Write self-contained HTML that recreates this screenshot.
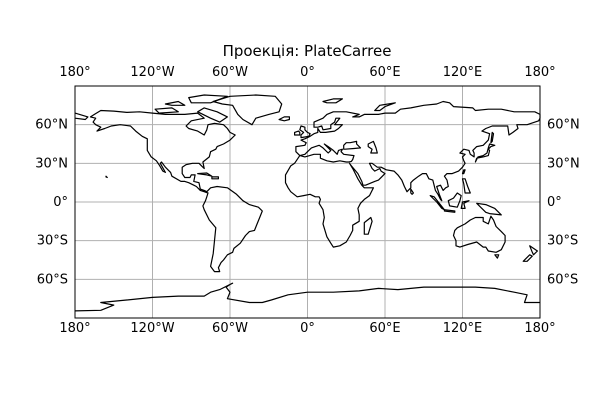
<!DOCTYPE html>
<html><head><meta charset="utf-8"><style>
html,body{margin:0;padding:0;background:#fff;}
svg{display:block;font-family:"DejaVu Sans","Liberation Sans",sans-serif;}
</style></head><body>
<svg id="map" width="600" height="400" viewBox="0 0 600 400">
<rect x="0" y="0" width="600" height="400" fill="#fff"/>
<text x="307" y="56" font-size="15" text-anchor="middle">Проекція: PlateCarree</text>
<g id="grid"></g>
<g id="coast"></g>
<rect x="75" y="86" width="465" height="232" fill="none" stroke="#000" stroke-width="1"/>
<g id="labels"></g>
</svg>
<script>
const lonTicks=[-180,-120,-60,0,60,120,180];
const lonLabels=["180°","120°W","60°W","0°","60°E","120°E","180°"];
const latTicks=[-60,-30,0,30,60];
const latLabels=["60°S","30°S","0°","30°N","60°N"];
const X0=75,W=465,Y0=86,H=232;
function px(lon){return X0+(lon+180)/360*W;}
function py(lat){return Y0+(90-lat)/180*H;}
const NS="http://www.w3.org/2000/svg";
function mk(t,a,p){const e=document.createElementNS(NS,t);for(const k in a)e.setAttribute(k,a[k]);p.appendChild(e);return e;}
const grid=document.getElementById('grid'),labels=document.getElementById('labels'),coast=document.getElementById('coast');
lonTicks.forEach((v,i)=>{
  const l=mk('line',{x1:px(v),x2:px(v),y1:Y0,y2:Y0+H,stroke:'#b0b0b0','stroke-width':1},grid);
  
  
  const t1=mk('text',{x:px(v),y:76,'font-size':13,'text-anchor':'middle'},labels);t1.textContent=lonLabels[i];
  
  
  const t2=mk('text',{x:px(v),y:332,'font-size':13,'text-anchor':'middle'},labels);t2.textContent=lonLabels[i];
  
  
});
latTicks.forEach((v,i)=>{
  const l=mk('line',{x1:X0,x2:X0+W,y1:py(v),y2:py(v),stroke:'#b0b0b0','stroke-width':1},grid);
  
  
  const t1=mk('text',{x:68,y:py(v)+4,'font-size':13,'text-anchor':'end'},labels);t1.textContent=latLabels[i];
  
  
  const t2=mk('text',{x:547,y:py(v)+4,'font-size':13,'text-anchor':'start'},labels);t2.textContent=latLabels[i];
  
  
});
const shapes=[
["americas",1,[-165,68,-160,71,-150,70.5,-140,69.5,-130,70,-120,69,-110,68,-95,68,-85,69,-80,65,-90,63,-94,59,-92,57,-85,55,-80,52,-78,56,-77,60,-72,61,-65,60,-62,57,-60,54,-56,52,-60,48,-65,45,-70,43,-71,41,-75,39,-76,35,-81,31,-80,26,-82,28,-84,30,-89,30,-94,29,-97,27,-97,22,-95,19,-91,19,-90,21,-87,21,-88,16,-84,15,-83,10,-80,9,-78,8,-75,11,-70,12,-62,11,-55,6,-50,1,-45,-2,-38,-4,-35,-7,-37,-12,-39,-17,-41,-22,-45,-23,-48,-26,-52,-32,-57,-36,-58,-39,-62,-41,-65,-45,-67,-47,-69,-51,-68,-54,-72,-54,-75,-50,-74,-45,-73,-40,-72,-30,-71,-20,-76,-14,-80,-6,-81,-3,-79,1,-78,4,-77,7,-80,8,-83,9,-86,12,-88,13,-92,15,-95,16,-98,16,-105,20,-106,23,-110,27,-113,31,-114,30,-110,23,-112,24,-115,29,-117,32,-121,35,-124,40,-124,46,-124,49,-128,51,-133,55,-137,59,-145,60,-152,59,-157,57,-163,55,-160,58,-164,60,-166,62,-164,65,-168,66]],
["greenland",1,[-73,78,-60,82,-40,83,-25,82,-20,76,-22,70,-30,68,-40,65,-43,60,-50,64,-54,68,-58,75,-66,76]],
["baffin",1,[-80,73,-70,70,-62,66,-68,62,-75,65,-85,70]],
["victoria-island",1,[-118,72,-105,73,-100,70,-115,69]],
["ellesmere",1,[-90,77,-75,77,-62,82,-80,83,-92,81]],
["arctic-islands",1,[-110,76,-100,78,-95,75,-105,75]],
["cuba",1,[-85,22,-78,22.5,-74,20,-78,21]],
["hispaniola",1,[-74,19.5,-69,19.5,-69,18,-74,18]],
["afro-eurasia",1,[-9,43,-9,39,-6,36,-2,37,0,39,3,42,6,43,9,44,12,42,16,38,18,40,13,45,16,43,20,40,23,37,24,40,27,41,26,39,28,37,36,36,35,33,34,31.5,32,31,30,31,25,32,20,31,15,32,10,34,10,37,5,37,-2,35,-6,36,-10,30,-13,28,-17,21,-17,15,-15,11,-13,8,-8,4,-3,5,2,6,6,4,9,4,10,2,9,-1,12,-6,13,-12,12,-17,15,-27,18,-32,20,-35,25,-34,30,-31,33,-26,35,-22,35,-18,40,-15,40,-10,39,-5,41,-1,44,2,48,5,51,11,44,11,42,13,39,18,37,22,35,26,32.5,30,34,28,39,22,42,16,43,13,45,13,52,16,55,17,58,20,60,22,57,24,56,26,52,24,50,26,48,30,50,30,54,27,57,27,61,25,67,24,70,21,73,17,75,12,77,8,80,11,80,15,82,17,86,20,89,22,92,22,94,18,97,17,98,13,99,9,101,6,103,2,104,1,102,6,100,12,103,13,105,9,107,11,109,12,108,17,106,20,108,22,112,22,117,24,120,27,122,30,121,32,120,35,122,37,118,38,121,41,125,40,126,37,129,35,129,38,128,40,131,43,136,44,140,48,141,53,135,55,138,57,143,59,150,59,155,59,156,52,159,54,163,57,162,60,170,60,179,63,180,65,180,68,176,70,170,70,160,70,150,72,140,72,130,71,128,73,113,74,110,77,105,78,100,76,90,75,80,73,72,72,68,69,60,69,55,68,44,68,40,66,35,66,40,68,30,70,20,70,15,68,12,65,5,62,5,58,8,58,11,59,12,56,18,57,18,60,21,62,22,65,25,65,21,60,27,60,24,57,21,55,14,54,10,54,8,57,8,54,5,53,2,51,-2,49,-5,48,-1,46,-2,44]],
["chukotka",0,[-180,65,-172,64,-170,66,-180,69]],
["caspian",1,[47,45,51,47,53,42,54,38,49,38,50,41,47,43]],
["black-sea",1,[28,41,28,44,30,46,33,46,38,47,38,45,41,42,36,41.5,29,41]],
["great-britain",1,[-5,50,1,51,2,53,0,54,-2,56,-2,58,-5,59,-6,56,-3,54,-5,52]],
["ireland",1,[-6,52,-10,52,-10,54,-7,55,-6,54]],
["iceland",1,[-22,64,-18,66,-14,66,-14,64,-18,63]],
["svalbard",1,[12,78,20,80,27,80,22,77,15,77]],
["novaya-zemlya",1,[52,71,56,75,68,77,60,74,56,71]],
["madagascar",1,[44,-25,47,-25,50,-15,49,-12,44,-16]],
["japan",1,[130,31,131,34,136,35,140,36,141,40,140,41,142,43,145,44,141,45,140,42,139,38,136,36,132,35]],
["sakhalin",1,[142,46,143,54,144,53,143,47]],
["sri-lanka",1,[80,10,82,7,81,6,80,7]],
["taiwan",1,[120,22,121,25,122,25,121,22]],
["sumatra",1,[95,5,98,4,106,-6,104,-5,100,0]],
["java",1,[106,-6,114,-7,114,-8,106,-7]],
["borneo",1,[109,1,110,-3,116,-4,118,1,119,5,116,7,113,3]],
["sulawesi",1,[119,-5,120,0,125,1,121,-1,122,-5]],
["new-guinea",1,[131,-1,138,-2,145,-5,150,-10,141,-9,138,-8,134,-4]],
["philippines",1,[120,18,122,18,124,12,126,7,122,7,121,14]],
["australia",1,[114,-22,116,-20,122,-17,126,-14,130,-12,136,-12,136,-15,140,-17,142,-11,144,-14,146,-19,150,-23,153,-26,153,-31,150,-37,146,-39,140,-38,138,-35,136,-35,131,-31,124,-33,118,-35,115,-34,115,-30,113,-26]],
["tasmania",1,[145,-41,148,-41,147,-43.5]],
["nz-north",1,[172,-34,178,-38,175,-41,174,-39]],
["nz-south",1,[172,-41,174,-42,170,-46,167,-46]],
["hawaii",1,[-156,20,-155,19,-156,19.5]],
["antarctica",0,[-180,-84.5,-160,-84,-150,-80,-160,-78,-140,-76,-120,-74,-100,-73,-80,-73,-75,-70,-68,-68,-58,-63,-60,-64,-63,-66,-60,-70,-62,-75,-45,-78,-35,-78,-28,-76,-15,-72,0,-70,20,-70,40,-69,55,-67,70,-68,80,-67,90,-66,110,-66,130,-66,145,-67,160,-70,170,-72,168,-78,180,-78]]
];
shapes.forEach(s=>{
  const c=s[2];let d='';
  for(let i=0;i<c.length;i+=2)d+=(i?'L':'M')+px(c[i]).toFixed(1)+','+py(c[i+1]).toFixed(1);
  if(s[1])d+='Z';
  const p=mk('path',{d:d,fill:'none',stroke:'#000','stroke-width':1.2,'stroke-linejoin':'round'},coast);
  
  
});
</script>
</body></html>
